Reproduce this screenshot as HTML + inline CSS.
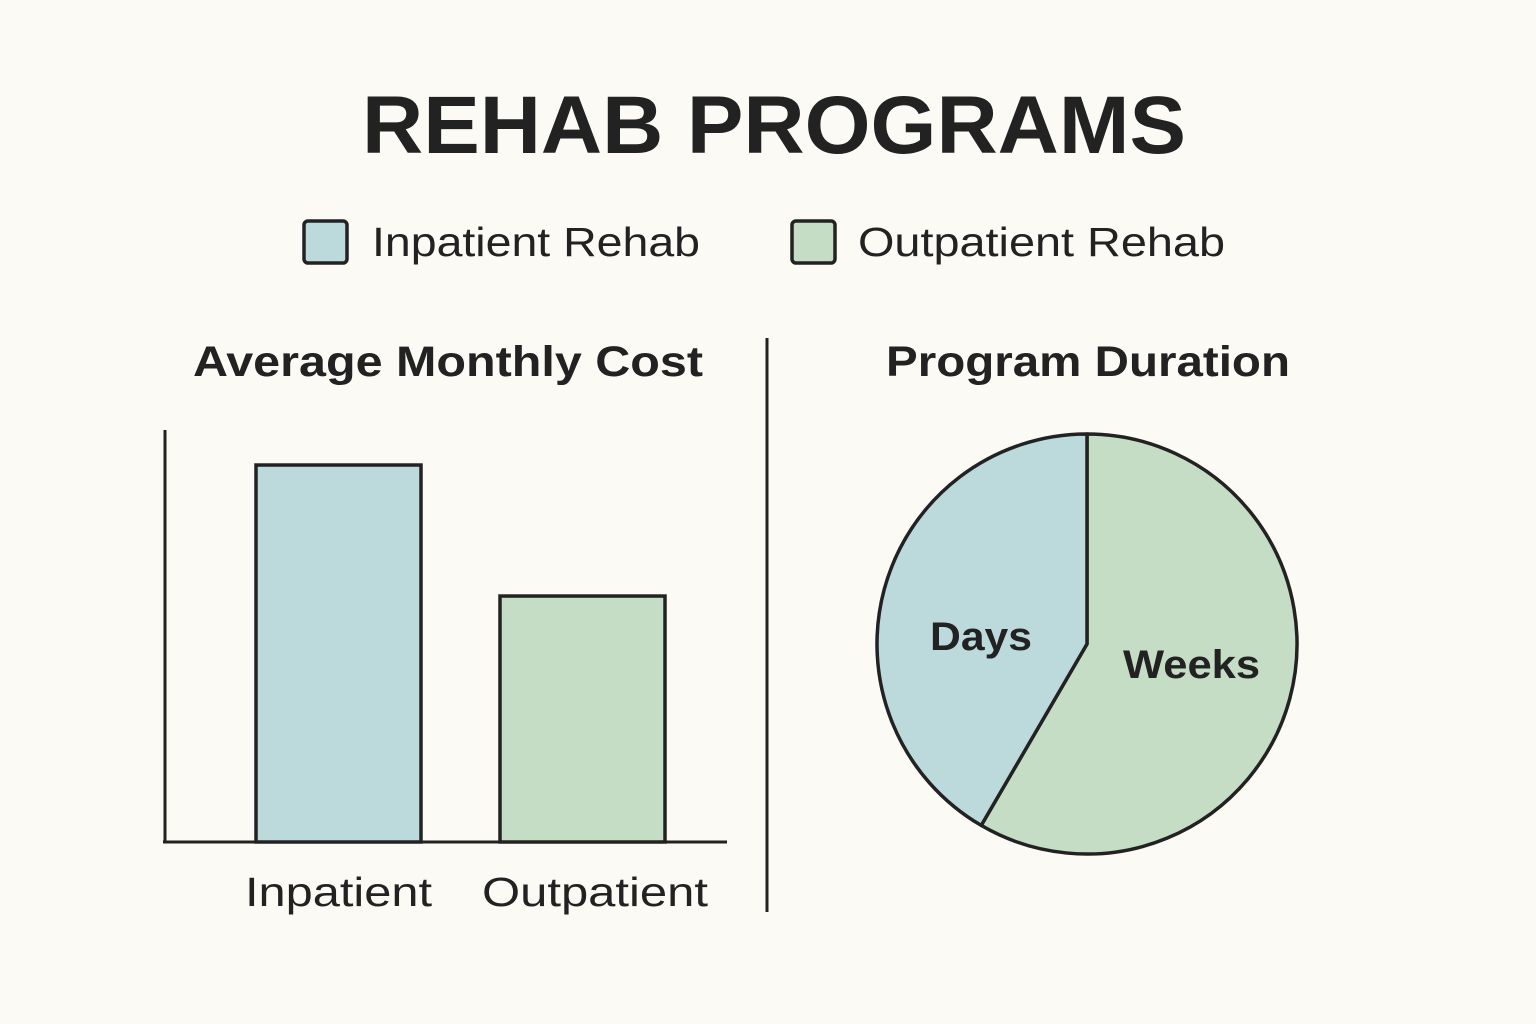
<!DOCTYPE html>
<html><head><meta charset="utf-8"><style>
html,body{margin:0;padding:0;background:#fcfaf4;}
body{width:1536px;height:1024px;overflow:hidden;position:relative;font-family:"Liberation Sans","DejaVu Sans",sans-serif;color:#222;}
</style></head><body>
<svg width="1536" height="1024" viewBox="0 0 1536 1024" style="position:absolute;left:0;top:0">
<text x="362" y="153" textLength="824" lengthAdjust="spacingAndGlyphs" font-size="82" font-weight="bold" fill="#222" font-family="Liberation Sans, sans-serif">REHAB PROGRAMS</text>
<g>
<rect x="304" y="221" width="43" height="42" rx="4" fill="#bcdadc" stroke="#222" stroke-width="3.5"/>
<text x="372" y="256" textLength="328" lengthAdjust="spacingAndGlyphs" font-size="41" fill="#222" font-family="Liberation Sans, sans-serif">Inpatient Rehab</text>
<rect x="792" y="221" width="43" height="42" rx="4" fill="#c5dcc5" stroke="#222" stroke-width="3.5"/>
<text x="858" y="256" textLength="367" lengthAdjust="spacingAndGlyphs" font-size="41" fill="#222" font-family="Liberation Sans, sans-serif">Outpatient Rehab</text>
</g>
<text x="193" y="376" textLength="510" lengthAdjust="spacingAndGlyphs" font-size="43" font-weight="bold" fill="#222" font-family="Liberation Sans, sans-serif">Average Monthly Cost</text>
<text x="886" y="376" textLength="404" lengthAdjust="spacingAndGlyphs" font-size="43" font-weight="bold" fill="#222" font-family="Liberation Sans, sans-serif">Program Duration</text>
<line x1="767" y1="338" x2="767" y2="912" stroke="#222" stroke-width="3"/>
<g id="bars"></g>
<g id="pie"></g>
</svg>
<script>
const barCategories = ["Inpatient", "Outpatient"];
const barValues = [91.5, 59.7];
const barColors = ["#bcdadc", "#c5dcc5"];
const pieLabels = ["Weeks", "Days"];
const pieValues = [58.4, 41.6];
const pieColors = ["#c5dcc5", "#bcdadc"];

const NS = "http://www.w3.org/2000/svg";
function mk(tag, attrs, parent){const e=document.createElementNS(NS,tag);for(const k in attrs)e.setAttribute(k,attrs[k]);parent.appendChild(e);return e;}
const bg = document.getElementById("bars");
const x0=165, baseY=842, topY=430, yMax=100;
const yScale = v => baseY - v/yMax*(baseY-topY);
const slotX = [256, 500], bw = 165;
const lblX = [245, 482], lblW = [187, 226];
barValues.forEach((v,i)=>{
  const r = mk("rect",{x:slotX[i],y:yScale(v),width:bw,height:baseY-yScale(v),fill:barColors[i],stroke:"#222","stroke-width":3.5},bg);
  
  
  const t = mk("text",{x:lblX[i],y:906,textLength:lblW[i],lengthAdjust:"spacingAndGlyphs","font-size":41,fill:"#222","font-family":"Liberation Sans, sans-serif"},bg);
  t.textContent = barCategories[i];
  
  
});
const ya = mk("line",{x1:x0,y1:topY,x2:x0,y2:baseY+1,stroke:"#222","stroke-width":3},bg);


const xa = mk("line",{x1:x0-2,y1:baseY,x2:727,y2:baseY,stroke:"#222","stroke-width":3},bg);


const pg = document.getElementById("pie");
const cx=1087, cy=644, R=210;
const total = pieValues.reduce((a,b)=>a+b,0);
let ang = 0;
const pt = a => [cx + R*Math.sin(a), cy - R*Math.cos(a)];
const labelPos = [[1123,678],[930,650]], labelW=[137,102];
pieValues.forEach((v,i)=>{
  const a0 = ang, a1 = ang + v/total*2*Math.PI; ang = a1;
  const [sx,sy]=pt(a0),[ex,ey]=pt(a1);
  const large = (a1-a0)>Math.PI?1:0;
  const p = mk("path",{d:`M${cx},${cy} L${sx},${sy} A${R},${R} 0 ${large} 1 ${ex},${ey} Z`,fill:pieColors[i],stroke:"#222","stroke-width":3.5,"stroke-linejoin":"round"},pg);
  
  
});
pieLabels.forEach((l,i)=>{
  const t = mk("text",{x:labelPos[i][0],y:labelPos[i][1],textLength:labelW[i],lengthAdjust:"spacingAndGlyphs","font-size":40,"font-weight":"bold",fill:"#222","font-family":"Liberation Sans, sans-serif"},pg);
  t.textContent = l;
  
  
});
</script>
</body></html>
